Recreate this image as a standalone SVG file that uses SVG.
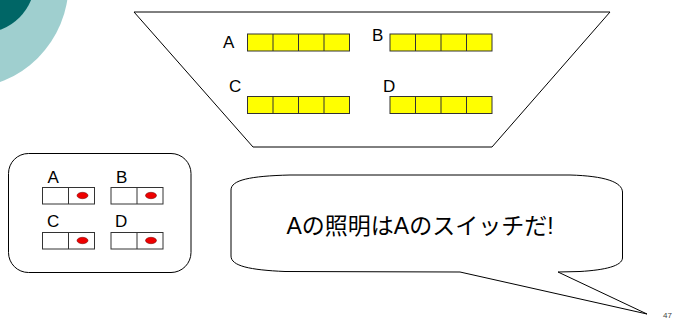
<svg xmlns="http://www.w3.org/2000/svg" width="680" height="320" viewBox="0 0 680 320">
<style>
.lbl{font-family:"Liberation Sans","Noto Sans CJK JP",sans-serif;font-size:17px;fill:#000}
.bar{fill:#ffff00;stroke:#333;stroke-width:1}
.cell{stroke:#333;stroke-width:1}
.sw{fill:#fff;stroke:#333;stroke-width:1}
.dot{fill:#ee0000;stroke:#600;stroke-width:0.5}
.ln{fill:#fff;stroke:#000;stroke-width:1}
</style>
<defs>
<g id="bar4">
<rect class="bar" x="0" y="0" width="102" height="17"/>
<path class="cell" d="M25.5 0V17M51 0V17M76.5 0V17"/>
</g>
<g id="switch">
<rect class="sw" x="0" y="0" width="52" height="16.5"/>
<path class="cell" d="M26 0V16.5"/>
<ellipse class="dot" cx="40" cy="8" rx="5.5" ry="3.2"/>
</g>
</defs>
<rect width="680" height="320" fill="#fff"/>
<g id="background">
<circle cx="-36" cy="-16" r="104.5" fill="#9fcfcf"/>
<circle cx="-18" cy="-20" r="53" fill="#006666"/>
</g>
<g id="room">
<polygon class="ln" points="134,12 610,12 492,147 253,147"/>
<g id="lightA"><text class="lbl" x="223" y="48">A</text><use href="#bar4" x="247.5" y="34"/></g>
<g id="lightB"><text class="lbl" x="372" y="41">B</text><use href="#bar4" x="390" y="34"/></g>
<g id="lightC"><text class="lbl" x="229" y="92">C</text><use href="#bar4" x="247.5" y="96.5"/></g>
<g id="lightD"><text class="lbl" x="383" y="92">D</text><use href="#bar4" x="390" y="96.5"/></g>
</g>
<g id="panel">
<rect class="ln" x="8.5" y="153.5" width="182.5" height="119" rx="20" ry="20"/>
<g id="switchA"><text class="lbl" x="47.5" y="183">A</text><use href="#switch" x="42.5" y="187.5"/></g>
<g id="switchB"><text class="lbl" x="116" y="183">B</text><use href="#switch" x="111" y="187.5"/></g>
<g id="switchC"><text class="lbl" x="47" y="227">C</text><use href="#switch" x="42.5" y="232.5"/></g>
<g id="switchD"><text class="lbl" x="115" y="227">D</text><use href="#switch" x="111" y="232.5"/></g>
</g>
<g id="bubble">
<path class="ln" d="M231,190 C231,180 250,176 290,175 L570,175 C605,176 622,182 622.5,192 L622.5,258 C622,266 605,270 580,271.5 L558,272 L647,314 L460,272 L285,271.5 C250,270 231,266 231,256 Z"/>
<text x="420" y="234" text-anchor="middle" style="font-family:'Liberation Sans','Noto Sans CJK JP',sans-serif;font-size:23px;fill:#000">Aの照明はAのスイッチだ!</text>
</g>
<g id="connectors"></g>
<text x="663" y="318" style="font-family:'Liberation Sans',sans-serif;font-size:8px;fill:#444">47</text>
</svg>
